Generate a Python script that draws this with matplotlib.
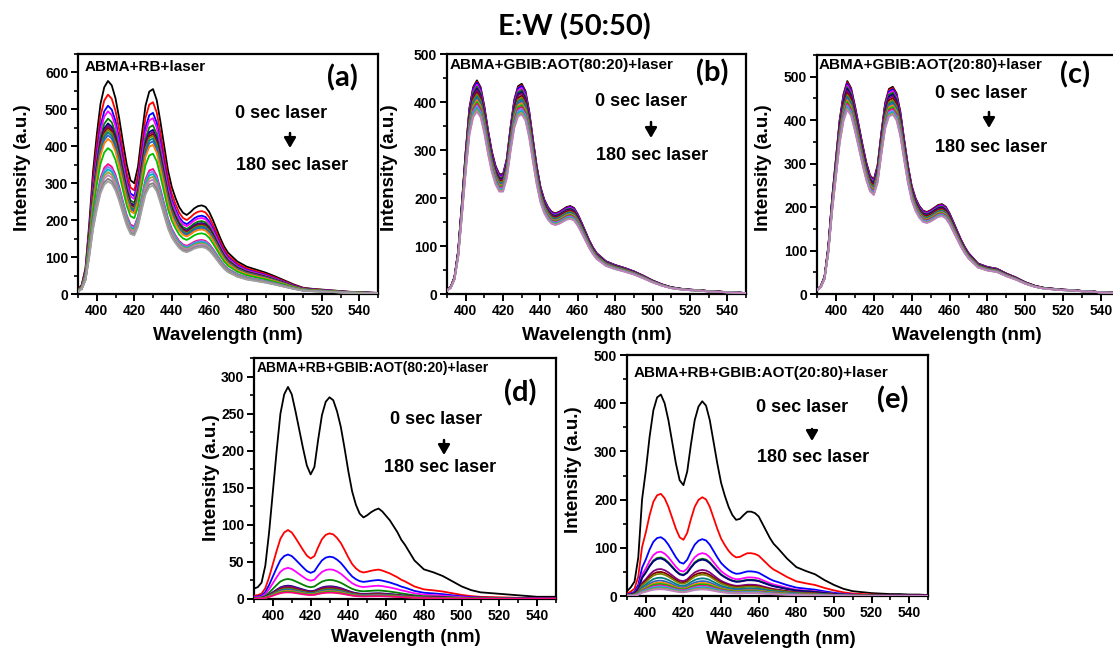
import matplotlib
matplotlib.use("Agg")
import matplotlib.pyplot as plt
from matplotlib.ticker import MultipleLocator

W, H = 1113, 652

# ---------------- data ----------------
wavelength = [390, 392, 394, 396, 398, 400, 402, 404, 406, 408,
              410, 412, 414, 416, 418, 420, 422, 424, 426, 428,
              430, 432, 434, 436, 438, 440, 442, 444, 446, 448,
              450, 452, 454, 456, 458, 460, 462, 464, 466, 468,
              470, 475, 480, 485, 490, 495, 500, 505, 510, 515, 520,
              525, 530, 535, 540, 545, 550]

# spectral shape of the strongest (first) curve in each panel
a_shape = [12, 25, 70, 190, 330, 430, 515, 560, 577, 565,
           530, 475, 410, 350, 308, 300, 345, 430, 510, 548,
           555, 525, 465, 400, 335, 290, 260, 235, 220, 214,
           222, 232, 238, 240, 236, 222, 200, 175, 150, 128,
           112, 88, 74, 66, 58, 48, 37, 26, 17, 14, 12,
           10, 8, 6, 5, 4, 3]
b_shape = [8, 15, 35, 90, 190, 295, 385, 428, 442, 428,
           388, 338, 295, 265, 248, 248, 280, 345, 402, 430,
           435, 420, 378, 320, 265, 222, 196, 180, 170, 167,
           170, 175, 180, 182, 178, 165, 148, 130, 112, 97,
           85, 68, 60, 54, 47, 38, 28, 20, 14, 11, 9,
           8, 6, 5, 4, 3, 2]
c_shape = [10, 18, 40, 110, 220, 310, 400, 458, 488, 472,
           432, 388, 343, 302, 272, 262, 295, 370, 438, 470,
           475, 460, 418, 355, 295, 248, 220, 202, 191, 188,
           192, 198, 204, 206, 200, 185, 165, 145, 125, 108,
           94, 70, 62, 58, 47, 38, 27, 19, 14, 12, 10,
           9, 7, 6, 4, 3, 3]
d_shape = [14, 16, 22, 45, 90, 145, 200, 250, 276, 286,
           276, 253, 228, 203, 180, 168, 178, 215, 248, 266,
           272, 268, 253, 232, 203, 172, 145, 127, 115, 110,
           113, 117, 120, 122, 118, 112, 106, 98, 90, 80,
           73, 52, 40, 36, 31, 24, 17, 12, 9, 8, 7,
           6, 5, 4, 3, 3, 3]
e_shape = [10, 18, 30, 80, 200, 260, 330, 385, 412, 418,
           400, 365, 320, 275, 240, 230, 258, 315, 365, 393,
           404, 395, 365, 320, 275, 235, 208, 185, 168, 158,
           160, 168, 175, 175, 172, 165, 150, 135, 120, 108,
           100, 78, 60, 52, 45, 33, 23, 15, 10, 8, 6,
           5, 4, 4, 3, 3, 2]

# peak intensity of each successive spectrum, 0 s -> 180 s
a_peaks = [577, 540, 510, 495, 475, 462, 456, 450, 445, 438,
           430, 420, 395, 352, 345, 338, 330, 322, 312, 305]
b_peaks = [445, 442, 440, 436, 432, 428, 425, 420, 416, 412,
           408, 404, 400, 396, 392, 388, 384, 380]
c_peaks = [490, 487, 484, 480, 476, 472, 468, 463, 458, 454,
           450, 446, 442, 438, 434, 430, 427, 424]
d_peaks = [286, 93, 60, 42, 27, 18, 17, 15, 14, 13, 12, 11, 10, 9]
e_peaks = [418, 212, 122, 92, 80, 78, 56, 50, 46, 38, 32, 28,
           25, 22, 20, 18, 16, 14]

sample_labels = ["ABMA+RB+laser",
                 "ABMA+GBIB:AOT(80:20)+laser",
                 "ABMA+GBIB:AOT(20:80)+laser",
                 "ABMA+RB+GBIB:AOT(80:20)+laser",
                 "ABMA+RB+GBIB:AOT(20:80)+laser"]
panel_tags = ["(a)", "(b)", "(c)", "(d)", "(e)"]
y_limits = [650, 500, 550, 325, 500]
y_steps = [100, 100, 100, 50, 100]
x_ticks = [400, 420, 440, 460, 480, 500, 520, 540]

colors = ['#000000', '#FF0000', '#0000FF', '#FF00FF', '#008000', '#000080',
          '#800080', '#800000', '#808000', '#008080', '#3060C0', '#FF8000',
          '#00C000', '#FF0080', '#8080FF', '#00B0C0', '#A0A040', '#C080C0',
          '#808080', '#A0A0A0']

# ---------------- layout (pixels) ----------------
boxes = [(78, 54, 378, 294), (447, 54, 746, 294), (817, 55, 1120, 294),
         (254, 358, 556, 599), (627, 355, 928, 596)]
label_fs = [11, 11, 11, 10, 11]
tag_pos = [(342, 78), (712, 73), (1075, 75), (520, 393), (893, 400)]
txt_pos = [(85, 67), (450, 65), (819, 65), (257, 368), (634, 373)]
t0_pos = [(235, 113), (595, 102), (935, 94), (390, 420), (756, 407)]
t1_pos = [(236, 166), (596, 155), (935, 147), (384, 468), (757, 458)]
arrows = [(290, 133, 148), (651, 122, 138), (989, 112, 128), (444, 440, 455), (812, 429, 441)]
xlab_pos = [(228, 335), (597, 335), (967, 335), (406, 638), (781, 640)]
ylab_pos = [(23, 168), (390, 168), (763, 168), (211, 478), (573, 470)]

shapes = [a_shape, b_shape, c_shape, d_shape, e_shape]
peaks = [a_peaks, b_peaks, c_peaks, d_peaks, e_peaks]

bold = dict(family=['Liberation Sans', 'DejaVu Sans'], weight='bold')

fig = plt.figure(figsize=(W / 100, H / 100), dpi=100)
fig.patch.set_facecolor('white')


def fx(x):
    return x / W


def fy(y):
    return 1 - y / H


for i in range(5):
    l, t, r, b = boxes[i]
    ax = fig.add_axes([fx(l), fy(b), (r - l) / W, (b - t) / H])
    shape = shapes[i]
    smax = max(shape)
    for k, p in enumerate(peaks[i]):
        ys = [v * p / smax for v in shape]
        ax.plot(wavelength, ys, color=colors[k % len(colors)], lw=1.3,
                zorder=3 + (0 if k == 0 else 1))
    ax.set_xlim(390, 550)
    ax.set_ylim(0, y_limits[i])
    ax.set_xticks(x_ticks)
    ax.xaxis.set_minor_locator(MultipleLocator(10))
    ax.yaxis.set_major_locator(MultipleLocator(y_steps[i]))
    ax.yaxis.set_minor_locator(MultipleLocator(y_steps[i] / 2))
    for s in ax.spines.values():
        s.set_linewidth(1.6)
    ax.tick_params(which='major', direction='out', length=5, width=1.4,
                   labelsize=10, pad=2, top=False, right=False)
    ax.tick_params(which='minor', direction='out', length=3, width=1.2,
                   top=False, right=False)
    for lab in ax.get_xticklabels() + ax.get_yticklabels():
        lab.set_fontweight('bold')
        lab.set_family(['Liberation Sans', 'DejaVu Sans'])

    fig.text(fx(xlab_pos[i][0]), fy(xlab_pos[i][1]), "Wavelength (nm)",
             ha='center', va='center', fontsize=13.5, **bold)
    fig.text(fx(ylab_pos[i][0]), fy(ylab_pos[i][1]), "Intensity (a.u.)",
             ha='center', va='center', rotation=90, fontsize=13.5, **bold)
    fig.text(fx(txt_pos[i][0]), fy(txt_pos[i][1]), sample_labels[i],
             ha='left', va='center', fontsize=label_fs[i], **bold)
    fig.text(fx(tag_pos[i][0]), fy(tag_pos[i][1]), panel_tags[i],
             ha='center', va='center', fontsize=21,
             family=['Lato', 'DejaVu Sans'], weight='bold')
    fig.text(fx(t0_pos[i][0]), fy(t0_pos[i][1]), "0 sec laser",
             ha='left', va='center', fontsize=13, **bold)
    fig.text(fx(t1_pos[i][0]), fy(t1_pos[i][1]), "180 sec laser",
             ha='left', va='center', fontsize=13, **bold)
    xa, ya0, ya1 = arrows[i]
    fig.add_artist(plt.Annotation('', xy=(fx(xa), fy(ya1)), xytext=(fx(xa), fy(ya0)),
                                  xycoords='figure fraction', textcoords='figure fraction',
                                  arrowprops=dict(arrowstyle='-|>,head_width=0.35,head_length=0.6',
                                                  color='black', lw=1.8, shrinkA=0, shrinkB=0)))

fig.text(fx(574), fy(27), "E:W (50:50)", ha='center', va='center', fontsize=21,
         family=['Lato', 'DejaVu Sans'], weight='bold')

fig.savefig("out.png", dpi=100)
